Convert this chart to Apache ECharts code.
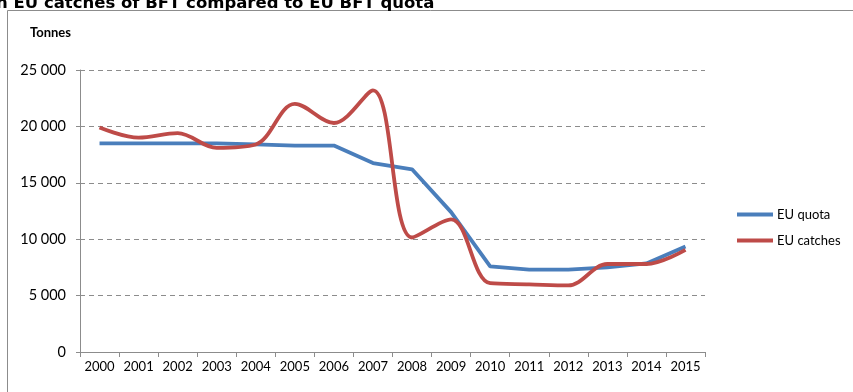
<!DOCTYPE html>
<html>
<head>
<meta charset="utf-8">
<script src="https://cdn.jsdelivr.net/npm/echarts@6/dist/echarts.min.js"></script>
<style>
  html, body { margin: 0; padding: 0; background: #fff; }
  #chart { width: 853px; height: 392px; }
</style>
</head>
<body>
<div id="chart"></div>
<script>
// Bluefin tuna: EU quota versus EU catches, tonnes per year
const years = ['2000', '2001', '2002', '2003', '2004', '2005', '2006', '2007',
               '2008', '2009', '2010', '2011', '2012', '2013', '2014', '2015'];
const euQuota = [18500, 18500, 18500, 18500, 18400, 18300, 18300, 16750,
                 16200, 12400, 7600, 7300, 7300, 7500, 7850, 9350];
const euCatches = [19900, 19000, 19400, 18100, 18400, 22000, 20300, 23200,
                   10150, 11750, 6100, 6000, 5900, 7800, 7800, 9050];
const yTicks = [0, 5000, 10000, 15000, 20000, 25000];

const labelFont = 'Lato, "Noto Sans", sans-serif';

function fmtThousands(v) {
  return String(v).replace(/\B(?=(\d{3})+(?!\d))/g, ' ');
}

const chart = echarts.init(document.getElementById('chart'), null, { renderer: 'canvas' });

chart.setOption({
  animation: false,
  backgroundColor: '#ffffff',
  graphic: [
    {
      type: 'rect',
      shape: { x: 7.5, y: 10.5, width: 860, height: 400 },
      style: { fill: 'none', stroke: '#8c8c8c', lineWidth: 1 },
      silent: true
    },
    {
      type: 'text',
      style: {
        text: 'n EU catches of BFT compared to EU BFT quota',
        x: -4, y: 12,
        verticalAlign: 'bottom',
        font: 'bold 16.5px "DejaVu Sans", sans-serif',
        fill: '#000'
      },
      silent: true
    },
    {
      type: 'text',
      style: {
        text: 'Tonnes',
        x: 30, y: 26,
        font: 'bold 13px ' + labelFont,
        fill: '#000'
      },
      silent: true
    }
  ],
  legend: {
    orient: 'vertical',
    left: 732,
    top: 203,
    itemWidth: 36,
    itemHeight: 4,
    itemGap: 13,
    icon: 'rect',
    textStyle: { fontFamily: labelFont, fontSize: 13, color: '#000', padding: [0, 0, 0, -1] },
    data: ['EU quota', 'EU catches']
  },
  grid: { left: 80, right: 148, top: 70, bottom: 40 },
  xAxis: {
    type: 'category',
    data: years,
    boundaryGap: true,
    axisLine: { lineStyle: { color: '#8c8c8c', width: 1 } },
    axisTick: { show: true, length: 5, lineStyle: { color: '#8c8c8c' } },
    axisLabel: { fontFamily: labelFont, fontSize: 13, color: '#000', margin: 8, interval: 0 },
    splitLine: { show: false }
  },
  yAxis: {
    type: 'value',
    min: 0,
    max: 25000,
    interval: 5000,
    axisLine: { show: true, lineStyle: { color: '#8c8c8c', width: 1 } },
    axisTick: { show: true, length: 4, lineStyle: { color: '#8c8c8c' } },
    axisLabel: {
      fontFamily: labelFont, fontSize: 14.5, color: '#000', margin: 14,
      formatter: function (v) { return yTicks.indexOf(v) >= 0 ? fmtThousands(v) : ''; }
    },
    splitLine: { show: true, lineStyle: { color: '#8c8c8c', type: [5, 4], width: 1 } }
  },
  series: [
    {
      name: 'EU quota',
      type: 'line',
      data: euQuota,
      smooth: false,
      showSymbol: false,
      symbol: 'none',
      color: '#4a7ebb',
      lineStyle: { color: '#4a7ebb', width: 3.8 }
    },
    {
      name: 'EU catches',
      type: 'line',
      data: euCatches,
      smooth: 0.35,
      showSymbol: false,
      symbol: 'none',
      color: '#be4b48',
      lineStyle: { color: '#be4b48', width: 3.8 }
    }
  ]
});
</script>
</body>
</html>
